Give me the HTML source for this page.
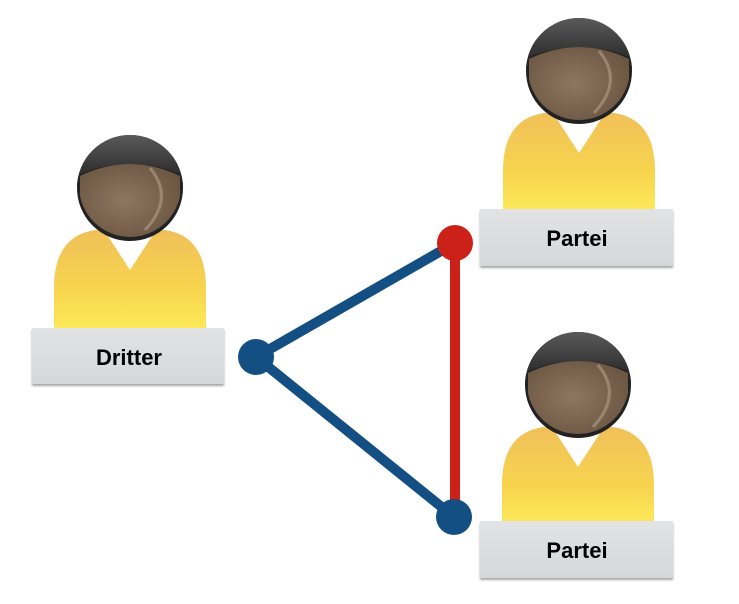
<!DOCTYPE html>
<html><head><style>
body{margin:0;background:#fff;width:739px;height:599px;overflow:hidden;font-family:"Liberation Sans",sans-serif;}
</style></head><body>
<svg width="739" height="599" viewBox="0 0 739 599" xmlns="http://www.w3.org/2000/svg">
<defs>
<linearGradient id="body" x1="0" y1="0" x2="0" y2="1">
<stop offset="0" stop-color="#f0c05a"/><stop offset="0.6" stop-color="#f7d44e"/><stop offset="1" stop-color="#fde95a"/>
</linearGradient>
<radialGradient id="face" cx="0.45" cy="0.5" r="0.6">
<stop offset="0" stop-color="#8e7760"/><stop offset="1" stop-color="#6b5643"/>
</radialGradient>
<linearGradient id="hair" x1="0" y1="0" x2="0" y2="1">
<stop offset="0" stop-color="#5a5a5a"/><stop offset="1" stop-color="#1e1e1e"/>
</linearGradient>
<linearGradient id="box" x1="0" y1="0" x2="0" y2="1">
<stop offset="0" stop-color="#e2e3e5"/><stop offset="1" stop-color="#d6d7d9"/>
</linearGradient>
<g id="person">
<path d="M-76,140 L-76,100 Q-76,48 -35,42 L35,42 Q76,48 76,100 L76,140 Z" fill="url(#body)"/>
<path d="M-26,42 L26,42 L0,82 Z" fill="#fff"/>
<circle cx="0" cy="0" r="53" fill="#222"/>
<path d="M-50,-12 Q0,-36 50,-12 L50,8 A51,51 0 0 1 -50,8 Z" fill="url(#face)"/>
<path d="M-53,0 A53,53 0 0 1 53,0 L50,-14 Q0,-34 -50,-14 Z" fill="url(#hair)"/>
<path d="M20,-20 Q45,10 15,42" stroke="#a89680" stroke-width="3" fill="none" opacity="0.7"/>
</g>
</defs>
<use href="#person" x="130" y="188"/>
<use href="#person" x="579" y="71"/>
<use href="#person" x="578" y="385"/>
<rect x="32" y="328" width="192" height="56" fill="url(#box)" style="filter:drop-shadow(0 2px 1px rgba(0,0,0,.35))"/>
<rect x="480" y="209" width="193" height="57" fill="url(#box)" style="filter:drop-shadow(0 2px 1px rgba(0,0,0,.35))"/>
<rect x="480" y="521" width="193" height="57" fill="url(#box)" style="filter:drop-shadow(0 2px 1px rgba(0,0,0,.35))"/>
<text x="129" y="365" text-anchor="middle" font-size="22" font-weight="bold" font-family="Liberation Sans, sans-serif">Dritter</text>
<text x="577" y="246" text-anchor="middle" font-size="22" font-weight="bold" font-family="Liberation Sans, sans-serif">Partei</text>
<text x="577" y="558" text-anchor="middle" font-size="22" font-weight="bold" font-family="Liberation Sans, sans-serif">Partei</text>
<line x1="455" y1="243" x2="455" y2="517" stroke="#cc2118" stroke-width="10"/>
<line x1="256" y1="357" x2="455" y2="243" stroke="#134f82" stroke-width="10"/>
<line x1="256" y1="357" x2="454" y2="517" stroke="#134f82" stroke-width="10"/>
<circle cx="455" cy="243" r="18" fill="#cc2118"/>
<circle cx="256" cy="357" r="18" fill="#134f82"/>
<circle cx="454" cy="517" r="18" fill="#134f82"/>
</svg>
</body></html>
